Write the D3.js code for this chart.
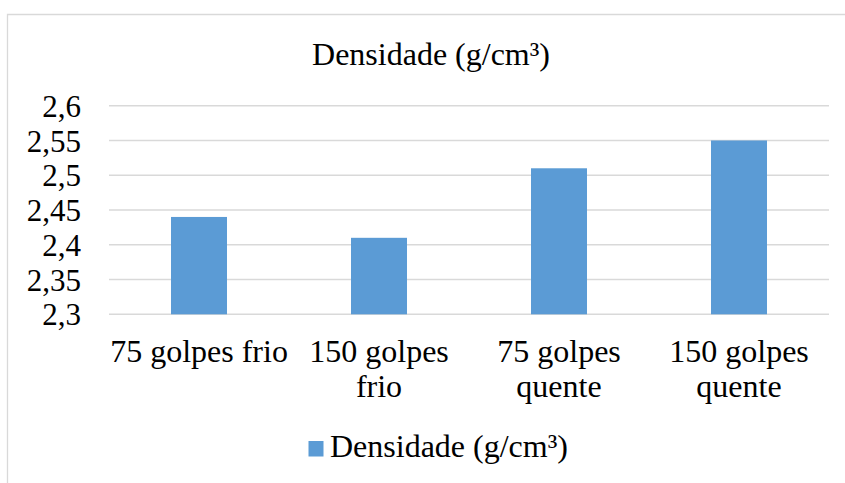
<!DOCTYPE html>
<html>
<head>
<meta charset="utf-8">
<script src="https://cdn.jsdelivr.net/npm/d3@7"></script>
<style>
  html, body { margin: 0; padding: 0; background: #fff; }
  svg { display: block; }
  svg text { font-family: "Liberation Serif", "Times New Roman", serif; }
</style>
</head>
<body>
<svg id="chart" width="845" height="483"></svg>
<script>
const categories = ["75 golpes frio", "150 golpes frio", "75 golpes quente", "150 golpes quente"];
const densidade = [2.44, 2.41, 2.51, 2.55];
const yTicks = [2.3, 2.35, 2.4, 2.45, 2.5, 2.55, 2.6];
const seriesName = "Densidade (g/cm³)";
const chartTitle = "Densidade (g/cm³)";

const svg = d3.select("#chart");
const W = 845, H = 483;
const plot = { left: 109, right: 829, top: 105.7, bottom: 314.3 };

// chart border (partially visible)
svg.append("path")
  .attr("d", `M7.5,${H} L7.5,14.5 L${W},14.5`)
  .attr("fill", "none")
  .attr("stroke", "#d9d9d9")
  .attr("stroke-width", 1.3);

const x = d3.scaleBand().domain(categories).range([plot.left, plot.right]).padding(0);
const y = d3.scaleLinear().domain([2.3, 2.6]).range([plot.bottom, plot.top]);

// gridlines
svg.append("g").selectAll("line").data(yTicks).join("line")
  .attr("x1", plot.left).attr("x2", plot.right)
  .attr("y1", d => y(d)).attr("y2", d => y(d))
  .attr("stroke", "#d9d9d9").attr("stroke-width", 1.5);

// y axis labels
const fmt = d => String(+d.toFixed(2)).replace(".", ",");
const yAxis = d3.axisLeft(y).tickValues(yTicks).tickFormat(fmt).tickSize(0).tickPadding(0);
const yg = svg.append("g").attr("transform", `translate(81,0)`).call(yAxis)
  .attr("font-family", null).attr("font-size", null);
yg.select(".domain").remove();
yg.selectAll("text").style("font-size", "31px").attr("fill", "#000").attr("dy", "0.34em");

// bars
const barW = 56;
svg.append("g").selectAll("rect").data(categories).join("rect")
  .attr("x", (d) => x(d) + x.bandwidth() / 2 - barW / 2)
  .attr("width", barW)
  .attr("y", (d, i) => y(densidade[i]))
  .attr("height", (d, i) => y(2.3) - y(densidade[i]))
  .attr("fill", "#5B9BD5");

// x axis labels with wrapping
const xAxis = d3.axisBottom(x).tickSize(0).tickPadding(0);
const xg = svg.append("g").call(xAxis).attr("font-family", null).attr("font-size", null);
xg.select(".domain").remove();
xg.selectAll("text").remove();
xg.selectAll(".tick").each(function(d) {
  const t = d3.select(this).append("text")
    .attr("text-anchor", "middle").style("font-size", "32px").attr("fill", "#000");
  const words = d.split(" ");
  let lines = [], cur = [];
  const tmp = t.append("tspan");
  words.forEach(w => {
    const test = cur.concat([w]).join(" ");
    tmp.text(test);
    if (tmp.node().getComputedTextLength() > x.bandwidth() - 2 && cur.length) {
      lines.push(cur.join(" "));
      cur = [w];
    } else cur.push(w);
  });
  lines.push(cur.join(" "));
  tmp.remove();
  lines.forEach((l, i) => {
    t.append("tspan").attr("x", 0).attr("y", 362 + i * 35).text(l);
  });
});

// title
svg.append("text").attr("x", 431).attr("y", 65).attr("text-anchor", "middle")
  .style("font-size", "32px").attr("fill", "#000").text(chartTitle);

// legend
const lg = svg.append("g");
lg.append("rect").attr("x", 308.5).attr("y", 441).attr("width", 15).attr("height", 15.5).attr("fill", "#5B9BD5");
lg.append("text").attr("x", 330).attr("y", 456.5).style("font-size", "32px").attr("fill", "#000").text(seriesName);
</script>
</body>
</html>
